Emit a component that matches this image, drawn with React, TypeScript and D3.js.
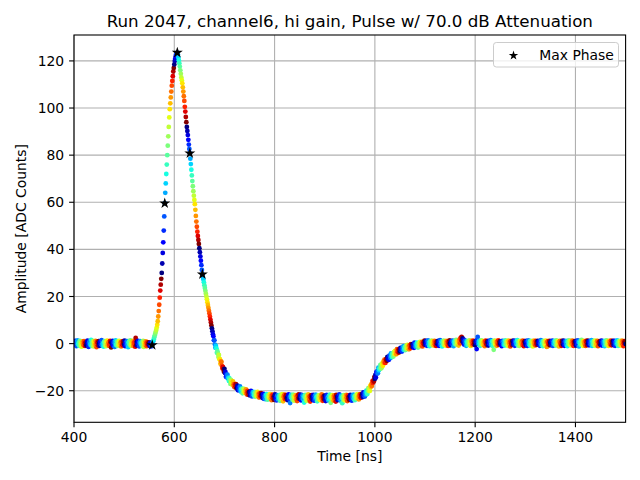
import * as d3 from 'd3'
import React from 'react'

const width = 640
const height = 480
const margin = { top: 35, right: 14.4, bottom: 57.7, left: 74 }

const title = 'Run 2047, channel6, hi gain, Pulse w/ 70.0 dB Attenuation'
const xLabel = 'Time [ns]'
const yLabel = 'Amplitude [ADC Counts]'
const legendLabel = 'Max Phase'

const xDomain = [400, 1500]
const yDomain = [-33.4, 131.0]
const xTicks = [400, 600, 800, 1000, 1200, 1400]
const yTicks = [-20, 0, 20, 40, 60, 80, 100, 120]

// samples are 1 ns apart (25 phases per 25 ns ADC clock), one row per clock period
const preBaselineStart = 400
const preBaseline = [
  0.8, 0.3, -0.5, 1.2, -0.2, -1.1, 0.6, 1.4, -0.3, 0.1, -0.9, 0.7, 1.1, -0.6, 0.2, -1.3, 0.4, 0.9, -0.1, -0.7, 1.0, 0.2, -1.0, 0.5, -0.4,
  -0.8, 0.6, 1.3, -0.2, -1.4, 0.3, 0.9, -0.5, 0.0, 1.6, -0.9, 0.4, -0.3, 1.1, -1.2, 0.7, 0.2, -0.6, 1.2, -0.1, -1.5, 0.8, 0.3, -0.7, 1.0,
  0.1, -1.0, 0.9, 0.4, -0.4, 1.5, -0.8, 0.2, -0.2, -1.3, 0.6, 1.0, -0.5, 0.3, -1.1, 0.8, 1.3, -0.7, 0.0, 0.5, -0.9, -0.3, 1.2, 0.6, -1.6,
  0.5, -0.2, 1.1, -0.9, 0.3, 0.7, -1.4, 0.2, 1.4, -0.6, -0.1, 0.9, -1.0, 0.4, -0.5, 1.2, -0.8, 0.1, 0.6, -1.2, 0.8, -0.3, -0.7, 1.0, 0.3,
  -0.4, 1.3, -1.1, 0.2, 0.7, -0.6, 1.0, -0.2, -1.5, 0.5, 0.9, -0.3, 1.4, -0.9, 0.1, -0.5, 0.6, 1.1, -1.0, 0.3, -0.2, 0.8, -1.3, 2.4, -0.6,
  0.7, -0.8, 0.2, 1.2, -0.4, -1.2, 0.5, 1.0, -0.1, 0.3, -0.9, 0.6, -0.3, 1.1, -1.4, 0.4, 0.0, -0.7, 0.9, 0.2, -1.1, 0.6, -0.5, -0.2, 0.5,
  -0.3, -1.0, 0.4, -0.8, -1.2,
]

const pulseStart = 555
const pulse = [
  -0.7, -0.6, 0.3, 1.0, 1.8, 2.6, 3.4, 4.2, 5.0, 5.8, 6.8, 8.0, 9.5, 11.5, 13.8, 16.5, 19.5, 22.5, 25.0, 27.5,
  30.0, 34.0, 38.5, 43.0, 48.0, 54.0, 59.6, 64.0, 68.0, 72.0, 76.0, 80.0, 84.0, 88.0, 92.0, 96.0, 99.5, 102.0, 104.5, 107.0, 109.5, 111.5, 113.5, 115.5, 117.0,
  118.5, 120.0, 121.0, 122.0, 122.8, 123.3, 123.5, 122.8, 121.5, 120.3, 119.0, 117.6, 116.0, 114.5, 113.0, 111.8, 110.5, 108.8, 107.0, 105.0, 103.0, 100.5, 98.5, 96.2, 94.0,
  92.0, 90.3, 88.5, 86.5, 84.5, 82.6, 80.8, 78.5, 76.2, 73.8, 71.4, 69.0, 66.8, 64.7, 62.8, 61.0, 59.2, 56.8, 54.2, 51.8, 49.6, 47.5, 45.7, 44.0, 42.3,
  40.5, 38.8, 37.0, 35.2, 33.3, 31.3, 29.4, 28.3, 27.2, 26.0, 24.8, 23.6, 22.4, 21.2, 20.0, 18.8, 17.6, 16.4, 15.2, 14.0, 12.8, 11.5, 10.2, 9.0, 7.7,
  6.5, 5.3, 4.0, 3.1, 1.4, 1.4, -0.4, -1.8, -1.0, -2.0, -3.9, -3.2, -4.3, -5.7, -4.8, -6.6, -6.6, -8.5, -7.5, -7.8, -9.5, -10.6, -9.9, -10.8, -11.9,
  -10.7, -12.5, -12.0, -14.1, -13.2, -14.3, -13.2, -14.8, -14.4, -15.9, -14.8, -15.7, -17.1, -15.4, -16.5, -16.1, -17.5, -16.0, -17.6, -17.2, -18.5, -17.2, -18.1, -17.2, -18.9,
  -18.7, -17.8, -19.8, -18.5, -18.9, -19.7, -18.2, -19.6, -20.4, -19.1, -19.5, -21.1, -19.2, -20.4, -19.2, -20.3, -21.0, -20.1, -19.4, -21.0, -21.6, -20.1, -20.8, -21.7, -20.5,
  -20.5, -22.0, -20.9, -20.1, -21.6, -22.4, -20.7, -21.4, -20.5, -22.1, -21.1, -22.5, -20.6, -21.8, -21.5, -22.4, -20.5, -22.2, -21.3, -22.9, -21.1, -21.9, -22.5, -21.0, -22.2,
]

const undershootStart = 775
const undershoot = [
  -21.6, -23.1, -22.0, -21.3, -23.4, -22.7, -21.9, -23.6, -22.2, -21.5, -22.9, -23.8, -22.4, -21.8, -23.0, -22.6, -21.4, -23.3, -22.1, -24.0, -22.8, -21.7, -23.2, -22.5, -23.9,
  -22.4, -21.6, -23.5, -22.9, -24.1, -22.2, -21.9, -23.7, -22.6, -23.1, -21.8, -24.3, -22.7, -22.0, -23.4, -21.5, -23.0, -24.5, -22.3, -22.8, -21.7, -23.6, -22.5, -21.9, -23.3,
  -22.9, -24.0, -22.1, -21.6, -23.5, -22.7, -25.2, -22.4, -21.8, -23.2, -22.6, -23.9, -21.7, -22.8, -24.2, -22.3, -23.0, -21.9, -23.6, -22.5, -24.4, -22.0, -23.3, -21.6, -22.9,
  -23.4, -22.2, -21.7, -24.1, -22.8, -23.1, -21.9, -23.7, -22.4, -25.0, -22.6, -21.8, -23.5, -22.9, -24.3, -22.1, -23.2, -21.6, -22.7, -23.8, -22.3, -24.6, -22.9, -21.9, -23.4,
  -22.5, -23.9, -21.8, -22.9, -24.2, -22.3, -23.4, -21.7, -23.0, -22.6, -24.5, -22.1, -23.6, -22.8, -21.9, -23.3, -24.0, -22.4, -23.1, -21.6, -22.7, -24.3, -23.0, -22.2, -23.7,
  -22.1, -23.5, -24.4, -22.6, -21.8, -23.2, -22.9, -24.1, -22.3, -23.6, -21.7, -22.8, -25.1, -23.0, -22.4, -21.9, -23.8, -22.6, -24.2, -22.0, -23.3, -22.7, -24.6, -21.8, -23.1,
  -22.6, -24.0, -22.2, -23.4, -21.6, -23.7, -22.9, -24.3, -22.1, -23.0, -25.3, -22.5, -23.8, -21.9, -22.8, -24.1, -22.3, -23.5, -21.8, -22.9, -24.4, -22.0, -23.2, -22.6, -23.9,
  -22.4, -21.8, -23.6, -22.7, -24.2, -22.1, -23.0, -21.7, -23.4, -22.5, -24.0, -22.2, -21.9, -23.3, -22.6, -21.5, -23.1, -22.4, -23.7, -21.8, -22.6, -21.4, -23.0, -22.2, -21.6,
]

const recoveryStart = 975
const recovery = [
  -21.4, -22.7, -20.7, -22.0, -21.4, -22.5, -20.6, -21.6, -20.0, -20.9, -21.4, -19.8, -18.9, -20.2, -19.0, -20.1, -17.8, -18.3, -17.2, -18.0, -15.9, -16.7, -15.6, -16.1, -14.2,
  -15.0, -13.3, -14.4, -12.1, -12.7, -11.6, -12.6, -10.2, -11.3, -10.5, -10.8, -9.0, -9.9, -10.5, -8.5, -8.6, -9.4, -7.6, -8.1, -6.8, -8.0, -8.2, -6.7, -6.6, -7.3,
  -5.6, -6.6, -5.9, -6.9, -5.1, -5.2, -6.1, -4.2, -5.2, -5.7, -4.2, -4.6, -5.5, -3.6, -4.5, -3.1, -4.5, -3.5, -4.5, -2.4, -3.4, -3.7, -2.5, -3.8, -2.6,
  -3.3, -1.8, -2.8, -2.1, -3.4, -1.6, -2.5, -1.1, -2.7, -2.0, -1.4, -2.7, -1.0, -1.8, -2.3, -0.5, -1.9, -1.1, -2.4, -0.7, -1.0, -2.0, -0.2, -1.3, -0.5,
  -0.2, -1.5, -0.6, -1.8, 0.4, -1.0, -0.2, -1.4, -0.5, 0.4, -1.0, -1.7, 0.2, -0.1, -1.2, 0.7, -0.5, 0.2, -0.9, 0.7, -1.2, 0.2, 0.6, -0.4, 1.3,
]

const postBaselineStart = 1100
const postBaseline = [
  0.6, -0.5, 1.1, 0.2, -0.9, 0.8, 1.4, -0.3, 0.4, -1.1, 0.9, 0.1, -0.6, 1.3, 0.5, -0.2, 1.0, -0.8, 0.3, 1.2, -0.4, 0.7, -1.0, 0.2, 0.9,
  -0.3, 1.1, 0.4, -0.9, 0.8, 1.5, -0.5, 0.2, 1.0, -1.2, 0.6, 0.0, 1.3, -0.6, 0.5, 0.9, -0.8, 1.2, 0.3, -0.4, 1.0, -1.0, 0.7, 0.1, 1.4,
  0.2, -0.7, 1.0, 0.5, -0.3, 1.3, 0.8, -1.1, 0.4, 1.1, -0.2, 0.6, 1.6, -0.5, 0.9, 0.3, 1.2, -0.8, 0.7, 1.8, 0.1, 2.4, 1.5, 2.9, 1.1,
  2.2, 0.6, 1.7, -0.4, 0.9, 1.3, 0.0, -0.9, 1.0, 0.4, -0.6, 1.2, 0.7, -0.2, 1.4, 0.3, -1.0, 0.8, 1.1, -0.5, 0.5, 1.3, -0.3, 0.9, 0.2,
  -0.7, 1.0, 0.4, -2.3, 1.6, 2.8, 0.6, -0.4, 1.2, 0.1, -0.9, 0.8, 1.4, -0.2, 0.5, 1.1, -0.6, 0.3, 0.9, -1.1, 0.7, 1.3, 0.0, -0.5, 1.0,
  0.5, -0.8, 1.2, 0.3, -0.3, 0.9, 1.5, -0.6, 0.2, 1.0, -1.0, 0.7, -2.6, 1.3, 0.4, -0.4, 1.1, 0.6, -0.9, 0.8, 0.0, 1.4, -0.5, 0.3, 1.0,
  -0.2, 0.9, 0.4, -1.1, 1.2, 0.6, -0.5, 1.0, 0.1, -0.8, 1.4, 0.3, -0.3, 0.8, 1.1, -0.9, 0.5, 1.3, -0.1, 0.7, -1.2, 1.0, 0.2, -0.6, 1.2,
  0.8, -0.4, 1.3, 0.0, -0.9, 1.1, 0.5, -0.2, 0.9, 1.5, -0.7, 0.3, 1.0, -1.0, 0.6, 1.2, -0.3, 0.4, 0.9, -0.6, 1.3, 0.1, -1.1, 0.7, 1.0,
  0.3, -0.6, 1.1, 0.6, -1.0, 0.9, 1.4, -0.2, 0.5, -0.8, 1.2, 0.2, -0.4, 1.0, 0.7, -1.2, 0.4, 1.3, -0.1, 0.8, -0.7, 1.1, 0.3, -0.5, 0.9,
  1.2, -0.3, 0.6, 1.0, -0.9, 0.2, 1.5, -0.6, 0.8, 0.0, -1.1, 1.1, 0.4, -0.2, 0.9, -0.8, 1.3, 0.5, -1.4, 0.7, 1.0, -0.4, 0.3, 1.2, -0.7,
  0.4, 1.0, -0.5, 0.8, 1.3, -1.0, 0.2, 0.9, -0.3, 1.1, 0.6, -0.8, 1.4, 0.0, -0.6, 1.0, 0.5, -1.2, 0.7, 1.2, -0.2, 0.3, -0.9, 1.1, 0.6,
  -0.4, 1.3, 0.2, -0.9, 0.8, 1.0, -0.5, 0.4, 1.2, -1.1, 0.6, 0.1, 1.4, -0.3, 0.9, -0.7, 1.1, 0.3, -0.2, 1.3, 0.5, -1.0, 0.8, 0.0, 1.0,
  0.7, -0.8, 1.1, 0.3, -0.4, 1.4, 0.6, -1.2, 0.9, 0.2, -0.5, 1.0, 1.6, -0.3, 0.4, -0.9, 1.2, 0.7, -0.1, 0.8, -1.0, 1.1, 0.5, -0.6, 1.3,
  0.1, 1.0, -0.7, 0.6, 1.2, -0.3, 0.4, 1.5, -1.0, 0.8, 0.2, -0.5, 1.1, 0.6, -0.9, 1.3, 0.0, -0.4, 0.9, 1.2, -1.1, 0.5, 0.7, -0.2, 1.0,
  -0.5, 0.8, 1.3, -0.8, 0.4, 1.0, -0.2, 0.7, -1.1, 1.2, 0.3, -0.6, 1.4, 0.5, -0.3, 0.9, -1.0, 1.1, 0.6, -0.4, 0.2, 1.3, -0.7, 0.8, 0.1,
  1.1, -0.6, 0.5, 1.2, -0.9, 0.3, 0.9, -0.2, 1.4, 0.0, -1.0, 0.7, 1.1, -0.5, 0.6, 1.0, -0.8, 0.4, 1.3, -0.3, 0.8, -1.1, 0.2, 1.0, 0.5,
  -0.2,
]

// samples of the phase with the largest peak
const maxPhaseTimes = [556, 581, 606, 631, 656]
const maxPhaseAmps = [-0.6, 59.6, 123.5, 80.8, 29.4]

const nPhases = 25
const clockPeriod = 25

const segments = [
  { start: preBaselineStart, values: preBaseline },
  { start: pulseStart, values: pulse },
  { start: undershootStart, values: undershoot },
  { start: recoveryStart, values: recovery },
  { start: postBaselineStart, values: postBaseline },
]

const points = segments.flatMap(s => s.values.map((v, i) => ({ t: s.start + i, v })))

// matplotlib 'jet'
const jetR = d3.scaleLinear([0, 0.35, 0.66, 0.89, 1], [0, 0, 1, 1, 0.5]).clamp(true)
const jetG = d3.scaleLinear([0, 0.125, 0.375, 0.64, 0.91, 1], [0, 0, 1, 1, 0, 0]).clamp(true)
const jetB = d3.scaleLinear([0, 0.11, 0.34, 0.65, 1], [0.5, 1, 1, 0, 0]).clamp(true)
const jet = (u: number) => d3.rgb(jetR(u) * 255, jetG(u) * 255, jetB(u) * 255).formatHex()
const phaseScale = d3.scaleLinear([0, nPhases - 1], [0, 1])

const font = 'DejaVu Sans, sans-serif'

export default function App() {
  const x = d3.scaleLinear(xDomain, [margin.left, width - margin.right])
  const y = d3.scaleLinear(yDomain, [height - margin.bottom, margin.top])
  const [x0, x1] = x.range()
  const [yb, yt] = y.range()
  const fmt = d3.format('d')
  const star = d3.symbol(d3.symbolStar, 38)()
  const legendStar = d3.symbol(d3.symbolStar, 28)()

  return (
    <svg
      width={width}
      height={height}
      style={{ position: 'absolute', left: 0, top: 0, background: '#fff' }}
      fontFamily={font}
    >
      <defs>
        <clipPath id="plot">
          <rect x={x0} y={yt} width={x1 - x0} height={yb - yt} />
        </clipPath>
      </defs>

      {/* grid */}
      <g stroke="#b0b0b0" strokeWidth={1.1}>
        {xTicks.map(t => (
          <line key={'gx' + t} x1={x(t)} x2={x(t)} y1={yt} y2={yb} />
        ))}
        {yTicks.map(t => (
          <line key={'gy' + t} x1={x0} x2={x1} y1={y(t)} y2={y(t)} />
        ))}
      </g>

      {/* samples coloured by phase */}
      <g clipPath="url(#plot)">
        {points.map(p => (
          <circle
            key={p.t}
            cx={x(p.t)}
            cy={y(p.v)}
            r={2.4}
            fill={jet(phaseScale(((p.t % clockPeriod) + clockPeriod) % clockPeriod))}
          />
        ))}
        {maxPhaseTimes.map((t, i) => (
          <path key={'s' + t} d={star!} transform={`translate(${x(t)},${y(maxPhaseAmps[i])})`} fill="#000" />
        ))}
      </g>

      {/* axes frame */}
      <rect x={x0} y={yt} width={x1 - x0} height={yb - yt} fill="none" stroke="#000" strokeWidth={1.1} />

      {/* ticks */}
      <g fontSize={13.9} fill="#000">
        {xTicks.map(t => (
          <g key={'xt' + t}>
            <line x1={x(t)} x2={x(t)} y1={yb} y2={yb + 4.9} stroke="#000" strokeWidth={1.1} />
            <text x={x(t)} y={441.7} textAnchor="middle">
              {fmt(t)}
            </text>
          </g>
        ))}
        {yTicks.map(t => (
          <g key={'yt' + t}>
            <line x1={x0 - 4.9} x2={x0} y1={y(t)} y2={y(t)} stroke="#000" strokeWidth={1.1} />
            <text x={x0 - 9.8} y={y(t)} dy="0.36em" textAnchor="end">
              {fmt(t)}
            </text>
          </g>
        ))}
      </g>

      {/* labels */}
      <text x={(x0 + x1) / 2} y={461} textAnchor="middle" fontSize={13.9}>
        {xLabel}
      </text>
      <text
        transform={`translate(26,${(yt + yb) / 2}) rotate(-90)`}
        textAnchor="middle"
        fontSize={13.9}
      >
        {yLabel}
      </text>
      <text x={(x0 + x1) / 2} y={26.7} textAnchor="middle" fontSize={16.7}>
        {title}
      </text>

      {/* legend */}
      <g>
        <rect x={493.5} y={42.5} width={125} height={24.5} rx={2.8} fill="#fff" fillOpacity={0.8} stroke="#cccccc" strokeWidth={1} />
        <path d={legendStar!} transform="translate(513.5,55.5)" fill="#000" />
        <text x={539.3} y={55} dy="0.36em" fontSize={13.9}>
          {legendLabel}
        </text>
      </g>
    </svg>
  )
}
